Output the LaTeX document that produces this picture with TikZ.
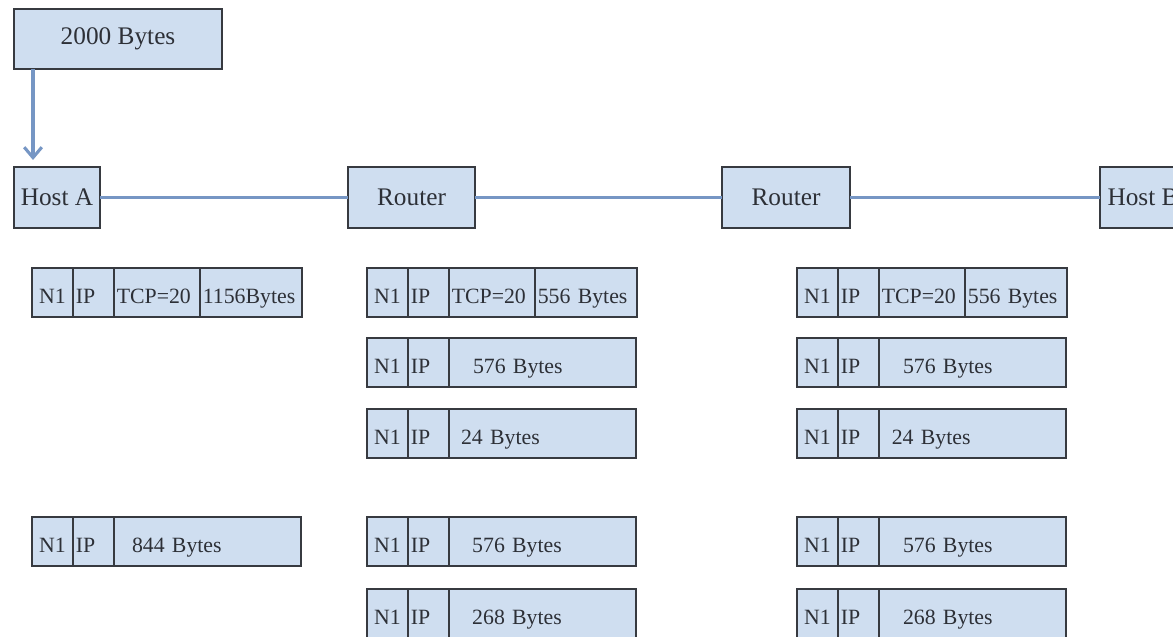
\documentclass[tikz,border=0pt]{standalone}
\usepackage{fontspec}
\setmainfont{Liberation Serif}
\usetikzlibrary{arrows.meta,positioning,shadows}
\definecolor{boxblue}{RGB}{207,222,240}
\definecolor{edgegrey}{RGB}{55,58,64}
\definecolor{linkblue}{RGB}{118,150,196}
\definecolor{txtgrey}{RGB}{45,48,55}
\newcommand{\bigfont}{\fontsize{18}{20}\selectfont}
\newcommand{\pktfont}{\fontsize{15.5}{18}\selectfont}
\tikzset{
  box/.style={draw=edgegrey,fill=boxblue,line width=0.9pt,text=txtgrey,inner sep=0pt,outer sep=0pt,
              drop shadow={shadow xshift=0.4pt,shadow yshift=-0.9pt,opacity=0.3}},
  hostbox/.style={box,font=\bigfont,minimum height=1.525cm,anchor=north west},
  cell/.style={box,font=\pktfont,minimum height=1.225cm,text height=1.55em,text depth=0pt},
  lcell/.style={text width=#1-0.14cm,inner xsep=0.07cm,align=left},
  fcell/.style={text width=4.675cm-2*#1,inner xsep=#1,align=left},
  link/.style={linkblue,line width=2.2pt}
}
\begin{document}
\begin{tikzpicture}[x=0.025cm,y=-0.025cm]
\useasboundingbox (0,0) rectangle (1173,637);
% ---------- hosts and routers ----------
\node[hostbox,minimum width=5.2cm,minimum height=1.5cm] (msg) at (14,9) {2000 Bytes};
\node[hostbox,minimum width=2.15cm] (hostA) at (14,167) {Host A};
\node[hostbox,minimum width=3.175cm] (router1) at (348,167) {Router};
\node[hostbox,minimum width=3.2cm] (router2) at (722,167) {Router};
\node[hostbox,minimum width=2.15cm] (hostB) at (1100,167) {Host B};
\draw[link,-{Straight Barb[length=2.6mm,width=4.4mm,line width=2.2pt]}] ([xshift=0.475cm]msg.south west)
   -- ([xshift=0.475cm,yshift=0.175cm]hostA.north west);
\draw[link] (hostA) -- (router1);
\draw[link] (router1) -- (router2);
\draw[link] (router2) -- (hostB);
% ---------- fragments that keep the TCP header ----------
\foreach \col/\x/\dat in {a/32/1156Bytes, b/367/556 Bytes, c/797/556 Bytes}{
  \node[cell,minimum width=1.025cm,anchor=north west] (\col1n) at (\x,268) {N1};
  \node[cell,lcell=1.025cm,right=0pt of \col1n] (\col1ip) {IP};
  \node[cell,lcell=2.15cm,right=0pt of \col1ip] (\col1tcp) {TCP=20};
  \node[cell,lcell=2.55cm,right=0pt of \col1tcp] (\col1dat) {\dat};
}
% ---------- data-only fragments ----------
\foreach \col/\r/\x/\y/\dat/\pad in {b/2/367/338/576 Bytes/0.6cm, b/3/367/409/24 Bytes/0.3cm,
    c/2/797/338/576 Bytes/0.6cm, c/3/797/409/24 Bytes/0.32cm, a/4/32/517/844 Bytes/0.45cm,
    b/4/367/517/576 Bytes/0.58cm, b/5/367/589/268 Bytes/0.58cm,
    c/4/797/517/576 Bytes/0.6cm, c/5/797/589/268 Bytes/0.6cm}{
  \node[cell,minimum width=1.025cm,anchor=north west] (\col\r n) at (\x,\y) {N1};
  \node[cell,lcell=1.025cm,right=0pt of \col\r n] (\col\r ip) {IP};
  \node[cell,fcell=\pad,right=0pt of \col\r ip] (\col\r dat) {\dat};
}
\end{tikzpicture}
\end{document}
